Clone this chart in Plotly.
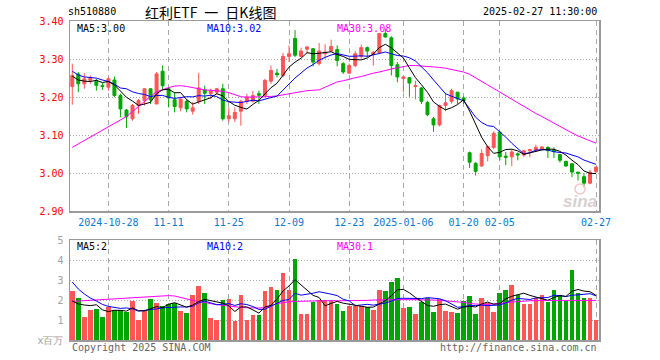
import plotly.graph_objects as go

# ---------------- data ----------------
dates = [
    "2024-10-18", "2024-10-21", "2024-10-22", "2024-10-23", "2024-10-24", "2024-10-25",
    "2024-10-28", "2024-10-29", "2024-10-30", "2024-10-31",
    "2024-11-01", "2024-11-04", "2024-11-05", "2024-11-06", "2024-11-07", "2024-11-08",
    "2024-11-11", "2024-11-12", "2024-11-13", "2024-11-14", "2024-11-15",
    "2024-11-18", "2024-11-19", "2024-11-20", "2024-11-21", "2024-11-22",
    "2024-11-25", "2024-11-26", "2024-11-27", "2024-11-28", "2024-11-29",
    "2024-12-02", "2024-12-03", "2024-12-04", "2024-12-05", "2024-12-06",
    "2024-12-09", "2024-12-10", "2024-12-11", "2024-12-12", "2024-12-13",
    "2024-12-16", "2024-12-17", "2024-12-18", "2024-12-19", "2024-12-20",
    "2024-12-23", "2024-12-24", "2024-12-25", "2024-12-26", "2024-12-27",
    "2024-12-30", "2024-12-31", "2025-01-02", "2025-01-03",
    "2025-01-06", "2025-01-07", "2025-01-08", "2025-01-09", "2025-01-10",
    "2025-01-13", "2025-01-14", "2025-01-15", "2025-01-16", "2025-01-17",
    "2025-01-20", "2025-01-21", "2025-01-22", "2025-01-23", "2025-01-24", "2025-01-27",
    "2025-02-05", "2025-02-06", "2025-02-07",
    "2025-02-10", "2025-02-11", "2025-02-12", "2025-02-13", "2025-02-14",
    "2025-02-17", "2025-02-18", "2025-02-19", "2025-02-20", "2025-02-21",
    "2025-02-24", "2025-02-25", "2025-02-26", "2025-02-27",
]

opens = [
    3.228, 3.261, 3.235, 3.244, 3.242, 3.230, 3.226, 3.245, 3.204, 3.166,
    3.143, 3.178, 3.191, 3.222, 3.182, 3.268, 3.222, 3.193, 3.172, 3.189,
    3.163, 3.189, 3.219, 3.209, 3.213, 3.222, 3.143, 3.143, 3.163, 3.189,
    3.189, 3.209, 3.204, 3.242, 3.263, 3.257, 3.307, 3.354, 3.307, 3.326,
    3.327, 3.288, 3.314, 3.321, 3.325, 3.288, 3.263, 3.283, 3.307, 3.330,
    3.312, 3.316, 3.367, 3.356, 3.285, 3.249, 3.251, 3.228, 3.224, 3.186,
    3.143, 3.127, 3.178, 3.189, 3.213, 3.198, 3.054, 3.026, 3.019, 3.046,
    3.068, 3.108, 3.045, 3.043, 3.051, 3.048, 3.059, 3.061, 3.063, 3.068,
    3.061, 3.049, 3.031, 3.025, 3.003, 2.991, 2.974, 3.004,
]
highs = [
    3.288, 3.266, 3.263, 3.257, 3.248, 3.237, 3.253, 3.254, 3.209, 3.169,
    3.182, 3.195, 3.222, 3.222, 3.266, 3.283, 3.226, 3.213, 3.200, 3.195,
    3.187, 3.263, 3.230, 3.222, 3.224, 3.235, 3.173, 3.173, 3.193, 3.209,
    3.217, 3.217, 3.248, 3.283, 3.274, 3.316, 3.336, 3.376, 3.330, 3.333,
    3.329, 3.342, 3.339, 3.351, 3.336, 3.292, 3.288, 3.321, 3.338, 3.333,
    3.321, 3.369, 3.380, 3.360, 3.292, 3.254, 3.253, 3.243, 3.226, 3.190,
    3.148, 3.180, 3.211, 3.222, 3.213, 3.202, 3.057, 3.029, 3.063, 3.072,
    3.110, 3.112, 3.056, 3.063, 3.055, 3.061, 3.064, 3.075, 3.071, 3.071,
    3.068, 3.049, 3.033, 3.025, 3.003, 3.000, 3.009, 3.019,
]
lows = [
    3.180, 3.213, 3.222, 3.235, 3.217, 3.219, 3.217, 3.200, 3.147, 3.119,
    3.138, 3.156, 3.178, 3.182, 3.182, 3.217, 3.173, 3.160, 3.163, 3.160,
    3.154, 3.182, 3.182, 3.195, 3.207, 3.138, 3.134, 3.134, 3.125, 3.182,
    3.186, 3.182, 3.201, 3.235, 3.252, 3.252, 3.292, 3.305, 3.305, 3.314,
    3.281, 3.283, 3.301, 3.318, 3.281, 3.261, 3.261, 3.279, 3.301, 3.305,
    3.283, 3.314, 3.356, 3.257, 3.239, 3.213, 3.201, 3.194, 3.182, 3.150,
    3.109, 3.123, 3.163, 3.183, 3.182, 3.182, 3.014, 2.994, 3.017, 3.031,
    3.063, 3.034, 3.021, 3.019, 3.034, 3.043, 3.042, 3.056, 3.060, 3.040,
    3.040, 3.028, 3.017, 2.990, 2.981, 2.963, 2.971, 3.001,
]
closes = [
    3.257, 3.235, 3.248, 3.250, 3.231, 3.228, 3.248, 3.204, 3.169, 3.149,
    3.178, 3.191, 3.222, 3.193, 3.261, 3.230, 3.198, 3.175, 3.195, 3.169,
    3.172, 3.224, 3.210, 3.217, 3.222, 3.143, 3.151, 3.160, 3.189, 3.200,
    3.204, 3.205, 3.244, 3.270, 3.259, 3.307, 3.314, 3.310, 3.321, 3.332,
    3.292, 3.321, 3.318, 3.333, 3.296, 3.266, 3.283, 3.314, 3.330, 3.321,
    3.318, 3.367, 3.358, 3.283, 3.253, 3.253, 3.237, 3.230, 3.189, 3.154,
    3.127, 3.178, 3.185, 3.217, 3.195, 3.191, 3.029, 3.005, 3.052, 3.070,
    3.105, 3.043, 3.042, 3.056, 3.048, 3.059, 3.062, 3.068, 3.069, 3.059,
    3.057, 3.034, 3.019, 3.003, 3.000, 2.974, 3.003, 3.016,
]
volumes = [
    2.43, 2.12, 1.17, 1.52, 1.57, 1.17, 1.67, 1.50, 1.50, 1.38,
    1.97, 0.98, 1.45, 2.07, 1.87, 1.72, 1.82, 1.85, 1.43, 1.37,
    2.27, 2.72, 2.37, 1.12, 0.98, 2.02, 2.07, 0.93, 2.27, 0.98,
    1.27, 1.27, 2.47, 2.67, 2.52, 3.33, 2.52, 4.07, 1.32, 1.32,
    1.92, 2.00, 1.98, 1.93, 1.82, 1.47, 1.72, 1.68, 1.68, 1.63,
    1.52, 2.52, 2.47, 2.92, 3.12, 1.62, 1.67, 1.32, 1.92, 2.10,
    1.42, 2.07, 1.47, 1.38, 1.37, 1.97, 2.22, 1.32, 2.12, 1.85,
    1.42, 2.37, 2.52, 2.77, 2.23, 1.82, 1.82, 2.12, 2.25, 1.92,
    2.52, 2.27, 1.95, 3.52, 2.37, 2.12, 2.12, 1.02,
]

# moving averages: MA30; first points of MA5/MA10 read too
price_ma30 = [
    3.068, 3.077, 3.086, 3.095, 3.104, 3.113, 3.122, 3.131, 3.140, 3.149,
    3.162, 3.176, 3.189, 3.202, 3.214, 3.220, 3.225, 3.229, 3.230, 3.228,
    3.225, 3.222, 3.219, 3.218, 3.217, 3.215, 3.212, 3.206, 3.201, 3.200,
    3.200, 3.200, 3.201, 3.202, 3.203, 3.206, 3.209, 3.212, 3.215, 3.217,
    3.218, 3.219, 3.226, 3.234, 3.240, 3.243, 3.248, 3.251, 3.254, 3.259,
    3.263, 3.266, 3.271, 3.274, 3.277, 3.280, 3.283, 3.283, 3.282, 3.280,
    3.279, 3.278, 3.276, 3.273, 3.270, 3.266, 3.260, 3.250, 3.241, 3.232,
    3.223, 3.213, 3.204, 3.194, 3.185, 3.176, 3.166, 3.157, 3.149, 3.140,
    3.131, 3.123, 3.115, 3.106, 3.098, 3.091, 3.085, 3.079,
]
price_ma5_lead = [3.255, 3.245, 3.242, 3.241]
price_ma10_lead = [3.268, 3.258, 3.253, 3.252, 3.250, 3.245, 3.241, 3.234, 3.224]
vol_ma30 = [
    1.93, 1.95, 1.97, 1.99, 2.01, 2.02, 2.03, 2.05, 2.07, 2.09,
    2.10, 2.12, 2.15, 2.18, 2.21, 2.22, 2.22, 2.20, 2.12, 2.03,
    1.98, 1.92, 1.86, 1.82, 1.77, 1.73, 1.69, 1.66, 1.63, 1.61,
    1.60, 1.60, 1.62, 1.70, 1.82, 1.88, 1.91, 1.93, 1.94, 1.95,
    1.96, 1.97, 1.97, 1.97, 1.96, 1.96, 1.95, 1.95, 1.96, 1.98,
    2.00, 2.01, 2.02, 2.02, 2.02, 2.02, 2.02, 2.02, 2.02, 2.01,
    2.00, 1.98, 1.96, 1.93, 1.90, 1.88, 1.82, 1.79, 1.78, 1.78,
    1.80, 1.82, 1.86, 1.90, 1.93, 1.95, 1.96, 1.97, 1.98, 1.98,
    1.98, 1.98, 1.98, 1.98, 1.98, 1.98, 1.98, 1.98,
]
vol_ma5_lead = [1.95, 1.80, 1.75, 1.72]
vol_ma10_lead = [2.90, 2.55, 2.30, 2.10, 1.95, 1.78, 1.68, 1.62, 1.58]

tick_dates = ["2024-10-28", "2024-11-11", "2024-11-25", "2024-12-09", "2024-12-23",
              "2025-01-06", "2025-01-20", "2025-02-05", "2025-02-27"]
tick_labels = ["2024-10-28", "11-11", "11-25", "12-09", "12-23",
               "2025-01-06", "01-20", "02-05", "02-27"]
price_ticks = [2.90, 3.00, 3.10, 3.20, 3.30, 3.40]
vol_ticks = [0, 1, 2, 3, 4, 5]
vol_tick_text = ["x百万", "1", "2", "3", "4", "5"]

# ---------------- styling ----------------
RED = "#ff5555"
GREEN = "#00a600"
MONO = "DejaVu Sans Mono"
W, H = 660, 360
L, R, T, B = 70, 61, 21, 20
PW, PH = W - L - R, H - T - B


def rolling(vals, n, lead):
    out = []
    for i in range(len(vals)):
        if i < n - 1:
            out.append(lead[i])
        else:
            out.append(sum(vals[i - n + 1:i + 1]) / n)
    return out


ma5 = rolling(closes, 5, price_ma5_lead)
ma10 = rolling(closes, 10, price_ma10_lead)
vma5 = rolling(volumes, 5, vol_ma5_lead)
vma10 = rolling(volumes, 10, vol_ma10_lead)
vol_colors = [RED if c >= o else GREEN for o, c in zip(opens, closes)]


def px(x):
    return (x - L) / PW


def py(y):
    return (H - B - y) / PH


fig = go.Figure()
fig.add_trace(go.Candlestick(
    x=dates, open=opens, high=highs, low=lows, close=closes,
    increasing=dict(line=dict(color=RED, width=1), fillcolor=RED),
    decreasing=dict(line=dict(color=GREEN, width=1), fillcolor=GREEN),
    xaxis="x", yaxis="y", showlegend=False, hoverinfo="skip",
))
for series, col in [(price_ma30, "#ff00ff"), (ma10, "#0000ff"), (ma5, "#000000")]:
    fig.add_trace(go.Scatter(x=dates, y=series, mode="lines",
                             line=dict(color=col, width=1),
                             xaxis="x", yaxis="y", showlegend=False, hoverinfo="skip"))

fig.add_trace(go.Bar(x=dates, y=volumes, marker=dict(color=vol_colors, line=dict(width=0)),
                     width=0.76, xaxis="x2", yaxis="y2", showlegend=False, hoverinfo="skip"))
for series, col in [(vol_ma30, "#ff00ff"), (vma10, "#0000ff"), (vma5, "#000000")]:
    fig.add_trace(go.Scatter(x=dates, y=series, mode="lines",
                             line=dict(color=col, width=1),
                             xaxis="x2", yaxis="y2", showlegend=False, hoverinfo="skip"))

n = len(dates)
xrange = [-0.38, n - 1 + 0.49]
common_x = dict(type="category", range=xrange, tickmode="array", tickvals=tick_dates,
                showgrid=True, gridcolor="#a8a8a8", gridwidth=1, griddash="5px,4px",
                showline=True, mirror=True, linecolor="#9a9a9a", linewidth=1.5,
                ticks="", zeroline=False, rangeslider=dict(visible=False))

fig.update_layout(
    width=W, height=H, margin=dict(l=L, r=R, t=T, b=B),
    paper_bgcolor="white", plot_bgcolor="white",
    font=dict(family=MONO, size=10, color="#000"),
    bargap=0,
    xaxis=dict(common_x, anchor="y", domain=[0, 1], ticktext=tick_labels,
               tickfont=dict(family=MONO, size=10, color="#0a7ad0"),
               ticklabelstandoff=1),
    xaxis2=dict(common_x, anchor="y2", domain=[0, 1], matches="x", showticklabels=False),
    yaxis=dict(domain=[py(211.3), 1], range=[2.90, 3.40], tickmode="array",
               tickvals=price_ticks, ticktext=["%.2f" % v for v in price_ticks],
               tickfont=dict(family=MONO, size=10, color="#ff0000"),
               showgrid=True, gridcolor="#a8a8a8", griddash="1px,2px", gridwidth=1,
               showline=True, mirror=True, linecolor="#9a9a9a", linewidth=1.5,
               ticks="", zeroline=False, ticklabelstandoff=3, fixedrange=True),
    yaxis2=dict(domain=[0, py(240)], range=[0, 5], tickmode="array",
                tickvals=vol_ticks, ticktext=vol_tick_text,
                tickfont=dict(family=MONO, size=10, color="#a0a0a0"),
                showgrid=True, gridcolor="#a8a8a8", griddash="1px,2px", gridwidth=1,
                showline=True, mirror=True, linecolor="#9a9a9a", linewidth=1.5,
                ticks="", zeroline=False, ticklabelstandoff=3),
)

ann = []


def text(x, y, s, color="#000", size=10, xanchor="left", family=MONO, **kw):
    ann.append(dict(x=px(x), y=py(y), xref="paper", yref="paper", text=s,
                    showarrow=False, xanchor=xanchor, yanchor="middle",
                    font=dict(family=family, size=size, color=color), **kw))


text(66, 12, "sh510880")
text(210, 12, "红利ETF\u2002一\u2002日K线图", size=14, xanchor="center",
     family="Noto Sans CJK SC")
text(599, 12, "2025-02-27 11:30:00", xanchor="right")
text(75, 28, "MA5:3.00")
text(205, 28, "MA10:3.02", color="#0000ff")
text(335, 28, "MA30:3.08", color="#ff00ff")
text(75, 246, "MA5:2")
text(205, 246, "MA10:2", color="#0000ff")
text(335, 246, "MA30:1", color="#ff00ff")
text(70, 347, "Copyright 2025 SINA.COM", color="#666666")
text(599, 347, "http://finance.sina.com.cn", color="#666666", xanchor="right")
text(580, 201, "<b><i>sina</i></b>", color="#d8d0d0", size=17, xanchor="center",
     family="Liberation Sans")
fig.update_layout(annotations=ann)
# small pink "eye" of the sina watermark
fig.add_shape(type="circle", xref="paper", yref="paper",
              x0=px(575), x1=px(585), y0=py(194), y1=py(184),
              line=dict(color="#f2c4c4", width=1.5), fillcolor="rgba(0,0,0,0)")

fig.write_html("out.html", config={"displayModeBar": False, "staticPlot": True},
               post_script="document.body.style.margin='0px';")
